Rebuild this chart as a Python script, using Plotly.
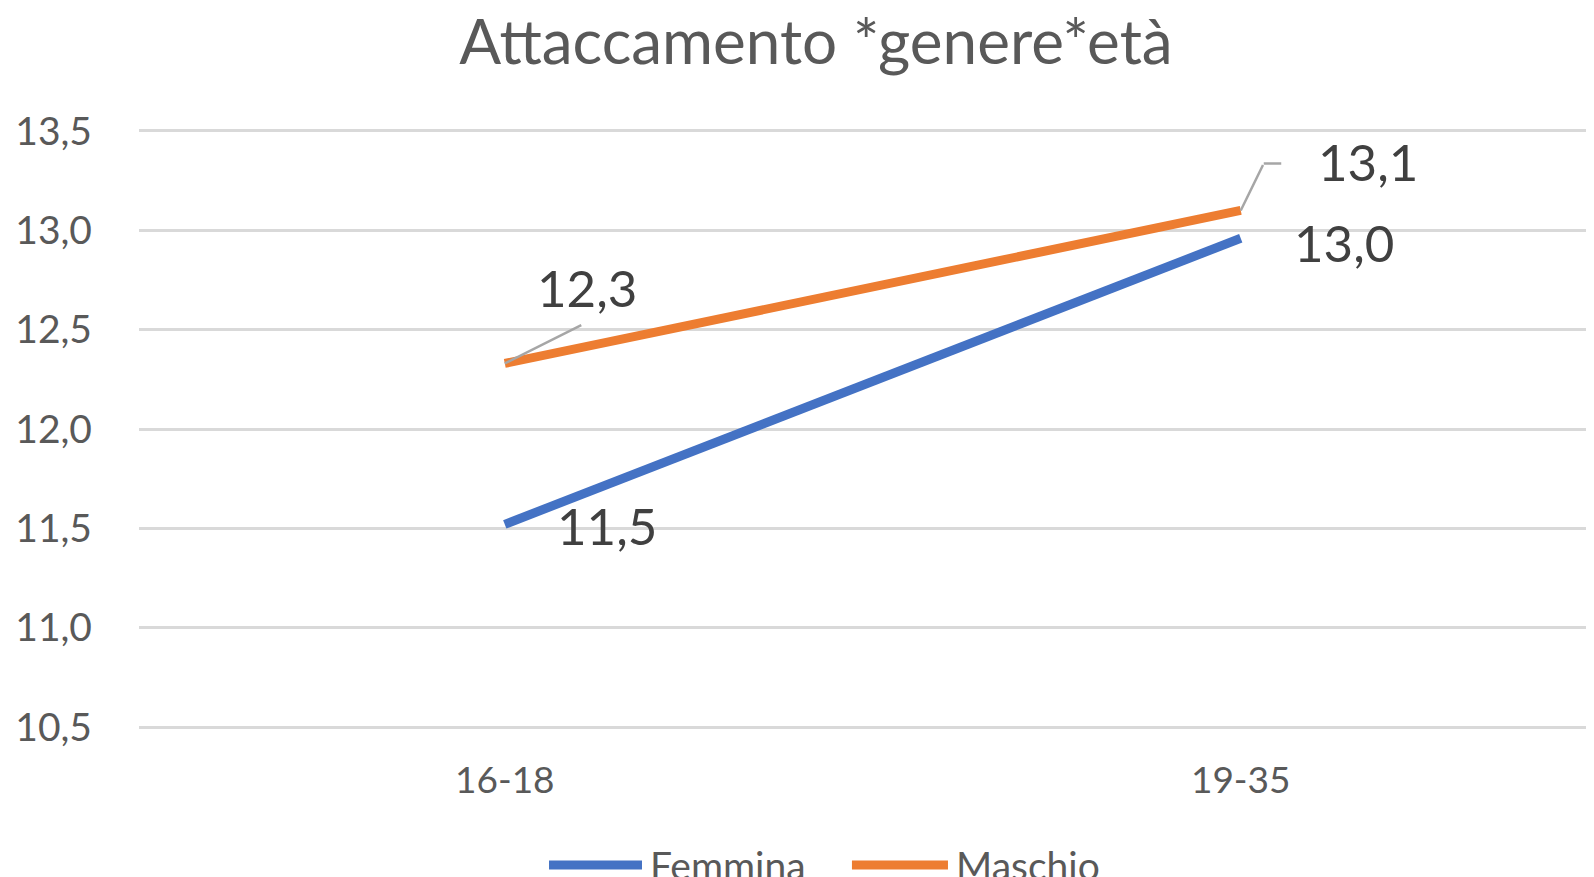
import plotly.graph_objects as go

eta = ["16-18", "19-35"]
femmina = [11.52, 12.96]
maschio = [12.33, 13.10]

BLU = "#4472C4"
ARANCIO = "#ED7D31"
GRIGIO = "#595959"
FONT = "Lato"

# la pagina ha un margine di 8px: la figura e' spostata di conseguenza
W, H = 1586, 869

fig = go.Figure()
fig.add_trace(go.Scatter(
    x=eta, y=femmina, name="Femmina", mode="lines",
    line=dict(color=BLU, width=9),
))
fig.add_trace(go.Scatter(
    x=eta, y=maschio, name="Maschio", mode="lines",
    line=dict(color=ARANCIO, width=9),
))

# etichette dati (offset in pixel rispetto al punto)
etichette = [
    (eta[0], maschio[0], 82, 76),
    (eta[1], maschio[1], 127, 49),
    (eta[1], femmina[1], 103, -4),
    (eta[0], femmina[0], 102, -1),
]
for x, y, dx, dy in etichette:
    fig.add_annotation(
        x=x, y=y, text=f"{y:.1f}".replace(".", ","), showarrow=False,
        xshift=dx, yshift=dy,
        font=dict(family=FONT, size=51, color="#404040"),
    )

# linee guida delle etichette
guida = dict(text="", showarrow=True, arrowhead=0, arrowwidth=2.5,
             arrowcolor="#A6A6A6", standoff=0)
fig.add_annotation(x=eta[0], y=maschio[0], ax=78, ay=-39, **guida)
fig.add_annotation(x=eta[1], y=maschio[1], ax=23, ay=-47, **guida)
fig.add_annotation(x=eta[1], y=maschio[1], xshift=23, yshift=47,
                   ax=19, ay=0, **guida)

# legenda disegnata a mano (linee lunghe come in Excel)
legenda = [("Femmina", BLU, 0.2818, 0.3457), ("Maschio", ARANCIO, 0.490, 0.556)]
for nome, colore, x0, x1 in legenda:
    fig.add_shape(type="line", xref="paper", yref="paper",
                  x0=x0, x1=x1, y0=-0.2265, y1=-0.2265,
                  line=dict(color=colore, width=9))
    fig.add_annotation(xref="paper", yref="paper", x=x1 + 0.004, y=-0.2265,
                       xanchor="left", yanchor="middle", showarrow=False,
                       text=nome, font=dict(family=FONT, size=39, color=GRIGIO))

fig.update_layout(
    width=W, height=H,
    separators=",.",
    plot_bgcolor="white",
    paper_bgcolor="white",
    showlegend=False,
    margin=dict(l=131, r=0, t=121, b=148),
    title=dict(
        text="Attaccamento *genere*età",
        x=808 / W, xanchor="center", y=1 - 34 / H, yanchor="middle",
        font=dict(family=FONT, size=62, color=GRIGIO),
    ),
    xaxis=dict(
        range=[-0.497, 1.48], showgrid=False, showline=False, zeroline=False,
        ticks="", ticklabelstandoff=26,
        tickfont=dict(family=FONT, size=37, color=GRIGIO),
    ),
    yaxis=dict(
        range=[10.49, 13.51], tickvals=[10.5, 11, 11.5, 12, 12.5, 13, 13.5],
        tickformat=".1f",
        showgrid=True, gridcolor="#D9D9D9", gridwidth=2.5,
        zeroline=False, showline=False, ticks="",
        ticklabelstandoff=46,
        tickfont=dict(family=FONT, size=39, color=GRIGIO),
    ),
)

fig.write_html("out.html")
